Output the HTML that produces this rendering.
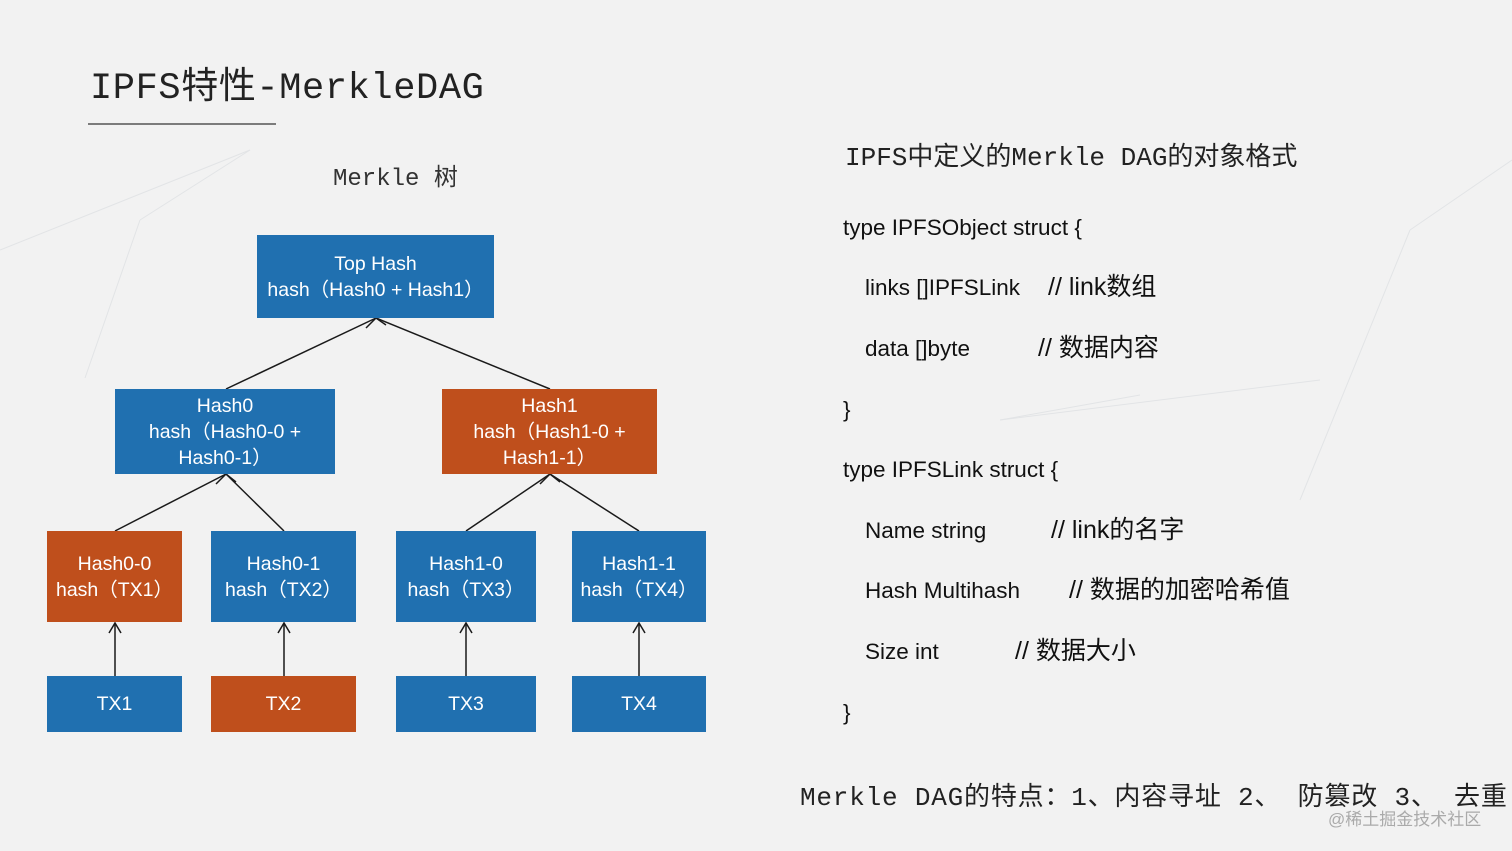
<!DOCTYPE html>
<html><head><meta charset="utf-8"><style>
body{margin:0;width:1512px;height:851px;background:#f2f2f2;position:relative;overflow:hidden;font-family:"Liberation Sans","Noto Sans CJK SC",sans-serif}
.a{position:absolute;white-space:nowrap}
.m{font-family:"Liberation Mono","Noto Sans CJK SC",monospace;color:#222}
.n{position:absolute;color:#fff;font-size:19.5px;line-height:26px;display:flex;align-items:center;justify-content:center;text-align:center}
.b{background:#2070b0}.o{background:#bf4f1c}
.c{font-size:22.5px;color:#111;line-height:28px}
.k{font-size:25px}
</style></head><body>
<svg class="a" style="left:0;top:0" width="1512" height="851">
<g stroke="#e2e4e6" stroke-width="1" fill="none">
<line x1="0" y1="250" x2="250" y2="150"/><line x1="140" y1="220" x2="250" y2="150"/><line x1="85" y1="378" x2="140" y2="220"/>
<line x1="1000" y1="420" x2="1320" y2="380"/><line x1="1140" y1="395" x2="1000" y2="420"/><line x1="1410" y1="230" x2="1300" y2="500"/><line x1="1410" y1="230" x2="1512" y2="160"/>
</g>
<g stroke="#1a1a1a" stroke-width="1.5" fill="none">
<line x1="226" y1="389" x2="376" y2="318"/><line x1="550" y1="389" x2="376" y2="318"/>
<polyline points="366,328 376,318 386,325"/>
<line x1="115" y1="531" x2="226" y2="474"/><line x1="284" y1="531" x2="226" y2="474"/>
<polyline points="216,484 226,474 236,482"/>
<line x1="466" y1="531" x2="550" y2="474"/><line x1="639" y1="531" x2="550" y2="474"/>
<polyline points="540,484 550,474 560,482"/>
<line x1="115" y1="676" x2="115" y2="623"/><polyline points="109,633 115,623 121,633"/>
<line x1="284" y1="676" x2="284" y2="623"/><polyline points="278,633 284,623 290,633"/>
<line x1="466" y1="676" x2="466" y2="623"/><polyline points="460,633 466,623 472,633"/>
<line x1="639" y1="676" x2="639" y2="623"/><polyline points="633,633 639,623 645,633"/>
</g>
<line x1="88" y1="124" x2="276" y2="124" stroke="#555" stroke-width="1.5"/>
</svg>
<div class="a m" style="left:90px;top:66px;font-size:37px;line-height:46px;letter-spacing:0.6px">IPFS特性-MerkleDAG</div>
<div class="a m" style="left:333px;top:165px;font-size:24px;line-height:30px;color:#333">Merkle 树</div>
<div class="n b" style="left:257px;top:235px;width:237px;height:83px">Top Hash<br>hash（Hash0 + Hash1）</div>
<div class="n b" style="left:115px;top:389px;width:220px;height:85px">Hash0<br>hash（Hash0-0 +<br>Hash0-1）</div>
<div class="n o" style="left:442px;top:389px;width:215px;height:85px">Hash1<br>hash（Hash1-0 +<br>Hash1-1）</div>
<div class="n o" style="left:47px;top:531px;width:135px;height:91px">Hash0-0<br>hash（TX1）</div>
<div class="n b" style="left:211px;top:531px;width:145px;height:91px">Hash0-1<br>hash（TX2）</div>
<div class="n b" style="left:396px;top:531px;width:140px;height:91px">Hash1-0<br>hash（TX3）</div>
<div class="n b" style="left:572px;top:531px;width:134px;height:91px">Hash1-1<br>hash（TX4）</div>
<div class="n b" style="left:47px;top:676px;width:135px;height:56px">TX1</div>
<div class="n o" style="left:211px;top:676px;width:145px;height:56px">TX2</div>
<div class="n b" style="left:396px;top:676px;width:140px;height:56px">TX3</div>
<div class="n b" style="left:572px;top:676px;width:134px;height:56px">TX4</div>
<div class="a m" style="left:845px;top:141px;font-size:26px;line-height:34px">IPFS中定义的Merkle DAG的对象格式</div>
<div class="a c" style="left:843px;top:214px">type IPFSObject struct {</div>
<div class="a c" style="left:865px;top:274px">links []IPFSLink</div><div class="a c k" style="left:1048px;top:273px">// link数组</div>
<div class="a c" style="left:865px;top:335px">data []byte</div><div class="a c k" style="left:1038px;top:334px">// 数据内容</div>
<div class="a c" style="left:843px;top:396px">}</div>
<div class="a c" style="left:843px;top:456px">type IPFSLink struct {</div>
<div class="a c" style="left:865px;top:517px">Name string</div><div class="a c k" style="left:1051px;top:516px">// link的名字</div>
<div class="a c" style="left:865px;top:577px">Hash Multihash</div><div class="a c k" style="left:1069px;top:576px">// 数据的加密哈希值</div>
<div class="a c" style="left:865px;top:638px">Size int</div><div class="a c k" style="left:1015px;top:637px">// 数据大小</div>
<div class="a c" style="left:843px;top:699px">}</div>
<div class="a m" style="left:800px;top:781px;font-size:26px;line-height:34px;letter-spacing:0.8px">Merkle DAG的特点：1、内容寻址  2、 防篡改 3、 去重</div>
<div class="a" style="left:1328px;top:805px;font-size:17px;color:#aaa">@稀土掘金技术社区</div>
</body></html>
